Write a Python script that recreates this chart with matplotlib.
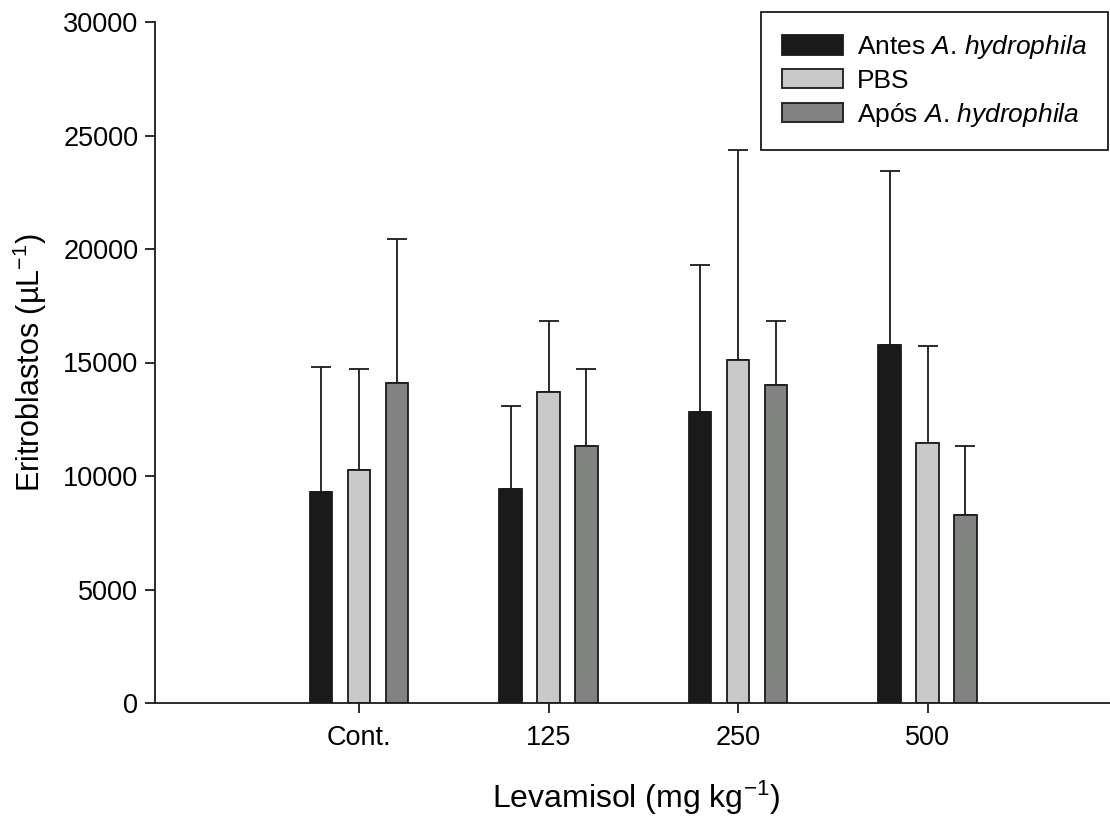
import numpy as np
import matplotlib
matplotlib.use("Agg")
import matplotlib.pyplot as plt

plt.rcParams['font.family'] = ['Liberation Sans', 'DejaVu Sans']
plt.rcParams['mathtext.fontset'] = 'custom'
plt.rcParams['mathtext.rm'] = 'Liberation Sans'
plt.rcParams['mathtext.it'] = 'Liberation Sans:italic'

doses = ['Cont.', '125', '250', '500']
antes = [9300, 9430, 12820, 15790]
antes_err = [5500, 3670, 6460, 7630]
pbs = [10260, 13690, 15110, 11440]
pbs_err = [4440, 3150, 9230, 4300]
apos = [14080, 11320, 14010, 8260]
apos_err = [6350, 3390, 2820, 3040]

labels = [r'Antes $\mathit{A}$. $\mathit{hydrophila}$', 'PBS',
          r'Após $\mathit{A}$. $\mathit{hydrophila}$']
colors = ['#1a1a1a', '#c9c9c9', '#818381']

fig = plt.figure(figsize=(11.1, 8.23), dpi=100)
ax = fig.add_axes([155 / 1110, 120 / 823, 962 / 1110, 681 / 823])

x = np.arange(len(doses))
w = 0.119
for i, (vals, errs) in enumerate([(antes, antes_err), (pbs, pbs_err), (apos, apos_err)]):
    pos = x + (i - 1) * 0.2
    ax.bar(pos, vals, width=w, color=colors[i], edgecolor='#1a1a1a', linewidth=1.3,
           label=labels[i], zorder=2)
    ax.errorbar(pos, vals, yerr=[np.zeros(len(vals)), errs], fmt='none',
                ecolor='#1a1a1a', elinewidth=1.3, capsize=7.5, capthick=1.3, zorder=1)

ax.set_xlim(-1.077, 4.0)
ax.set_ylim(0, 30000)
ax.set_xticks(x)
ax.set_xticklabels(doses)
ax.set_yticks(np.arange(0, 30001, 5000))

for s in ['top', 'right']:
    ax.spines[s].set_visible(False)
for s in ['left', 'bottom']:
    ax.spines[s].set_linewidth(1.3)
    ax.spines[s].set_color('#1a1a1a')
ax.tick_params(direction='out', length=7, width=1.3, labelsize=19.5, pad=5, color='#1a1a1a')
ax.tick_params(axis='x', pad=9)

ax.set_ylabel('Eritroblastos (µL$^{-1}$)', fontsize=22, labelpad=10)
ax.set_xlabel('Levamisol (mg kg$^{-1}$)', fontsize=23, labelpad=20)

leg = ax.legend(loc='upper right', bbox_to_anchor=(1108 / 1110, 1 - 12 / 823),
                bbox_transform=fig.transFigure, borderaxespad=0, fontsize=19,
                fancybox=False, edgecolor='#1a1a1a', framealpha=1,
                handlelength=2.3, handleheight=0.75, handletextpad=0.55,
                labelspacing=0.3, borderpad=0.8)
leg.get_frame().set_linewidth(1.3)

fig.savefig('out.png', dpi=100)
